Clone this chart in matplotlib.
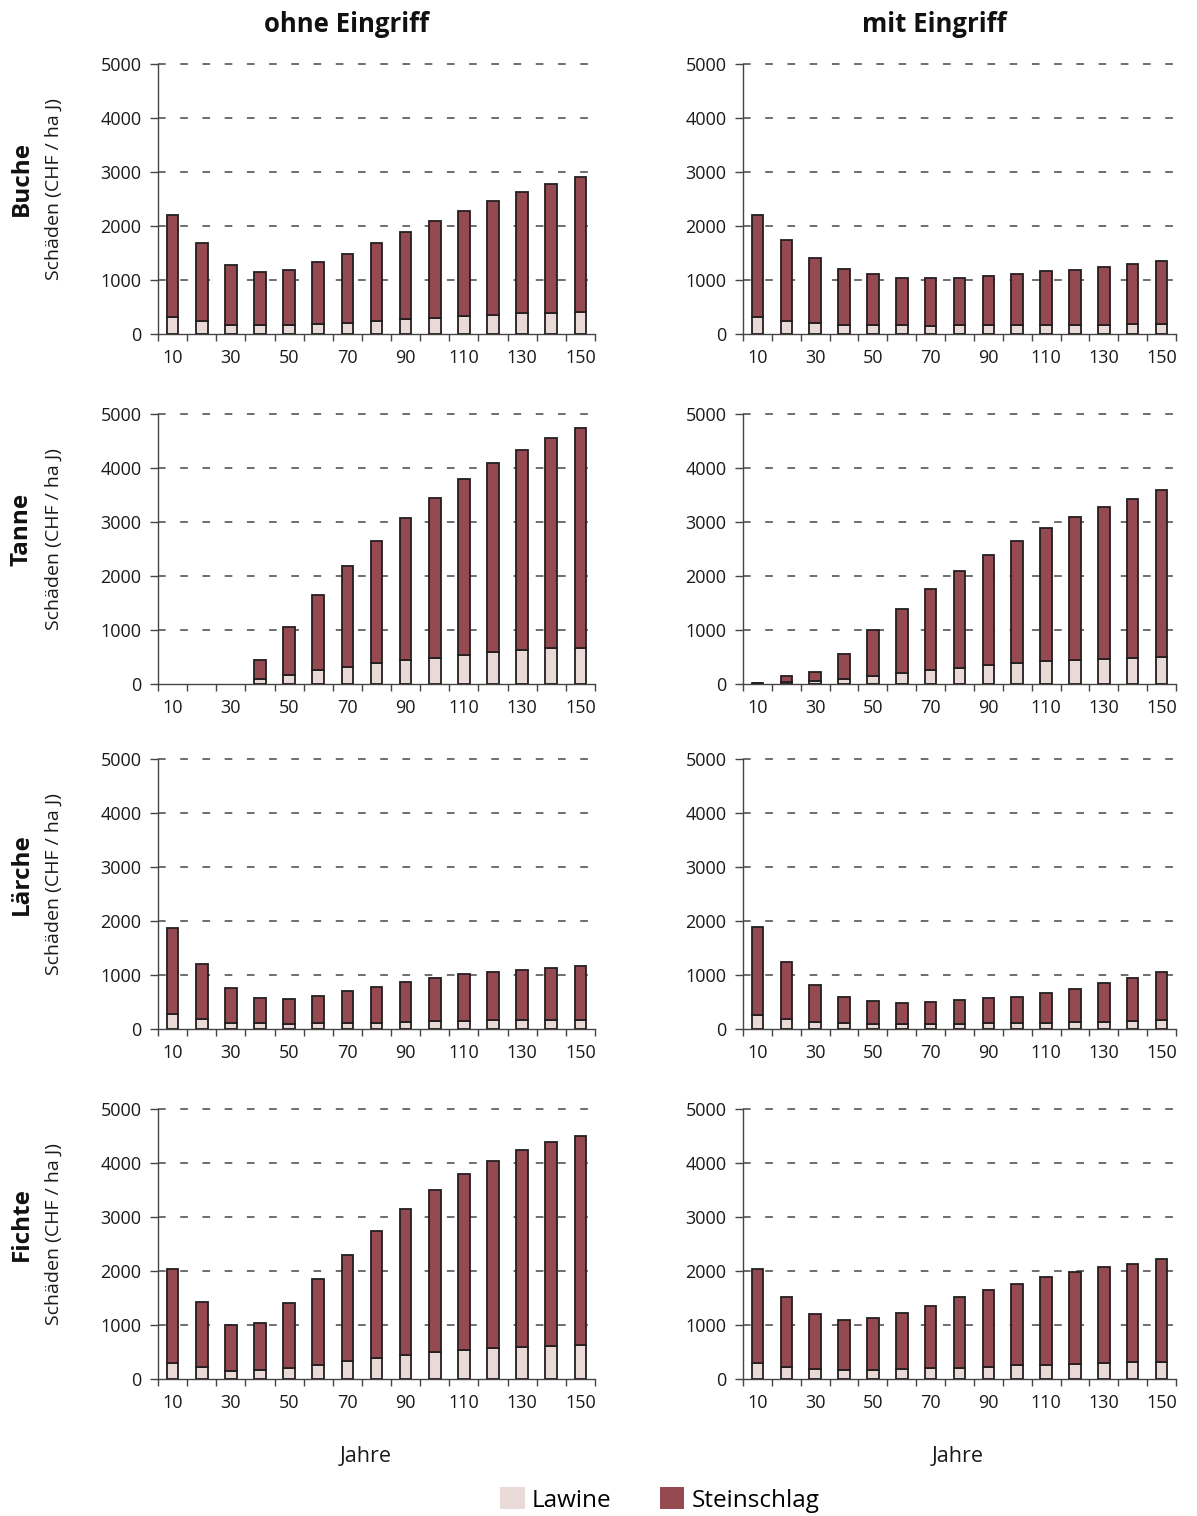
import numpy as np
import matplotlib
matplotlib.use("Agg")
import matplotlib.pyplot as plt
from matplotlib.patches import Patch

plt.rcParams['font.family'] = ['Open Sans', 'DejaVu Sans']
plt.rcParams['lines.scale_dashes'] = False

# ---------------- data ----------------
years = [10, 20, 30, 40, 50, 60, 70, 80, 90, 100, 110, 120, 130, 140, 150]
tick_labels = ["10", "30", "50", "70", "90", "110", "130", "150"]
species = ["Buche", "Tanne", "Lärche", "Fichte"]
scenarios = ["ohne Eingriff", "mit Eingriff"]
series_names = ["Lawine", "Steinschlag"]

# totals (Lawine + Steinschlag) and Lawine share, CHF / ha J
buche_ohne_total = [2210, 1680, 1270, 1140, 1190, 1330, 1490, 1680, 1880, 2090, 2280, 2460, 2630, 2770, 2900]
buche_ohne_lawine = [310, 240, 170, 160, 170, 185, 210, 240, 285, 295, 330, 345, 380, 395, 405]
buche_mit_total = [2210, 1740, 1405, 1210, 1105, 1040, 1040, 1040, 1070, 1105, 1160, 1190, 1240, 1290, 1360]
buche_mit_lawine = [310, 240, 210, 175, 160, 160, 145, 160, 160, 160, 165, 175, 175, 185, 185]

tanne_ohne_total = [0, 0, 0, 450, 1060, 1650, 2190, 2650, 3080, 3450, 3790, 4090, 4340, 4550, 4735]
tanne_ohne_lawine = [0, 0, 0, 85, 175, 260, 320, 380, 440, 490, 535, 590, 630, 660, 670]
tanne_mit_total = [25, 140, 230, 560, 1000, 1390, 1760, 2095, 2380, 2650, 2885, 3100, 3285, 3435, 3590]
tanne_mit_lawine = [10, 45, 55, 100, 155, 210, 260, 300, 350, 380, 420, 440, 470, 485, 505]

laerche_ohne_total = [1870, 1200, 765, 580, 560, 615, 695, 785, 865, 950, 1015, 1060, 1100, 1135, 1170]
laerche_ohne_lawine = [270, 185, 115, 105, 100, 105, 115, 115, 135, 140, 140, 160, 160, 160, 160]
laerche_mit_total = [1885, 1235, 820, 600, 520, 485, 500, 530, 565, 600, 665, 745, 850, 950, 1050]
laerche_mit_lawine = [260, 185, 135, 105, 85, 85, 85, 85, 105, 105, 105, 125, 135, 150, 165]

fichte_ohne_total = [2030, 1425, 1000, 1045, 1415, 1850, 2295, 2745, 3150, 3500, 3800, 4030, 4240, 4390, 4505]
fichte_ohne_lawine = [295, 215, 150, 165, 210, 260, 325, 395, 450, 500, 530, 570, 600, 615, 635]
fichte_mit_total = [2045, 1525, 1210, 1095, 1130, 1230, 1360, 1510, 1640, 1765, 1885, 1980, 2080, 2135, 2215]
fichte_mit_lawine = [295, 230, 180, 165, 165, 185, 200, 210, 220, 260, 260, 285, 295, 310, 310]

panels = {
    ("Buche", 0): (buche_ohne_lawine, buche_ohne_total),
    ("Buche", 1): (buche_mit_lawine, buche_mit_total),
    ("Tanne", 0): (tanne_ohne_lawine, tanne_ohne_total),
    ("Tanne", 1): (tanne_mit_lawine, tanne_mit_total),
    ("Lärche", 0): (laerche_ohne_lawine, laerche_ohne_total),
    ("Lärche", 1): (laerche_mit_lawine, laerche_mit_total),
    ("Fichte", 0): (fichte_ohne_lawine, fichte_ohne_total),
    ("Fichte", 1): (fichte_mit_lawine, fichte_mit_total),
}

c_lawine = "#e9dad8"
c_stein = "#944a50"
edge = "#231f20"
txt = "#1a1a1a"

W, H = 1197, 1516
fig = plt.figure(figsize=(W / 100, H / 100), dpi=100)

col_left = [158, 743]
col_right = [595, 1176]
row_top = [64, 414, 759, 1109]
row_bot = [334, 684, 1029, 1379]

x = np.arange(len(years))
for r, sp in enumerate(species):
    for c in range(2):
        l, rr = col_left[c], col_right[c]
        t, b = row_top[r], row_bot[r]
        ax = fig.add_axes([l / W, 1 - b / H, (rr - l) / W, (b - t) / H])
        law, tot = panels[(sp, c)]
        law = np.array(law, float)
        tot = np.array(tot, float)
        stein = tot - law
        # categories without damage get no bar at all
        law = np.where(tot > 0, law, np.nan)
        stein = np.where(tot > 0, stein, np.nan)
        ax.bar(x, law, width=0.4, color=c_lawine, edgecolor=edge, linewidth=1.3, zorder=3)
        ax.bar(x, stein, width=0.4, bottom=np.nan_to_num(law), color=c_stein, edgecolor=edge,
               linewidth=1.3, zorder=3)
        ax.set_xlim(-0.5, len(years) - 0.5)
        ax.set_ylim(0, 5000)
        ax.set_yticks(np.arange(0, 5001, 1000))
        ax.set_yticklabels([str(v) for v in range(0, 5001, 1000)], fontsize=13, color=txt)
        ax.set_xticks(np.arange(-0.5, len(years), 1.0))
        ax.set_xticklabels([])
        ax.set_xticks(np.arange(0, len(years), 2), minor=True)
        ax.set_xticklabels(tick_labels, minor=True, fontsize=13, color=txt)
        ax.tick_params(axis='x', which='major', length=5, width=1, color="#444444", direction='out')
        ax.tick_params(axis='x', which='minor', length=0, pad=11)
        ax.tick_params(axis='y', length=6, width=1, color="#444444", direction='out', pad=6)
        for s in ['top', 'right']:
            ax.spines[s].set_visible(False)
        for s in ['left', 'bottom']:
            ax.spines[s].set_color("#444444")
            ax.spines[s].set_linewidth(1.0)
        ax.set_axisbelow(True)
        ax.yaxis.grid(True, linestyle=(0, (5.5, 10.5)), color="#555555", linewidth=1.2)
        for gl in ax.get_ygridlines():
            gl.set_clip_on(False)
        ax.get_ygridlines()[0].set_visible(False)
        if c == 0:
            ax.set_ylabel("Schäden (CHF / ha J)", fontsize=14, color=txt)
            ax.yaxis.set_label_coords(-0.217, 0.535)
            fig.text(22 / W, 1 - ((t + b) / 2 - 20) / H, sp, rotation=90, fontsize=17.5,
                     fontweight='bold', ha='center', va='center', color="#111111")

fig.text(347 / W, 1 - 25 / H, scenarios[0], fontsize=18.5, fontweight='bold', ha='center', va='center', color="#111111")
fig.text(934 / W, 1 - 25 / H, scenarios[1], fontsize=18.5, fontweight='bold', ha='center', va='center', color="#111111")
fig.text(366 / W, 1 - 1457 / H, "Jahre", fontsize=15.5, ha='center', va='center', color=txt)
fig.text(958 / W, 1 - 1457 / H, "Jahre", fontsize=15.5, ha='center', va='center', color=txt)

handles = [Patch(facecolor=c_lawine, edgecolor='none', label=series_names[0]),
           Patch(facecolor=c_stein, edgecolor='none', label=series_names[1])]
fig.legend(handles=handles, loc='center', bbox_to_anchor=(660 / W, 1 - 1500 / H), ncol=2,
           frameon=False, fontsize=17.5, handlelength=1.0, handleheight=1.0,
           handletextpad=0.3, columnspacing=2.0, borderpad=0)

fig.savefig("out.png", dpi=100)
